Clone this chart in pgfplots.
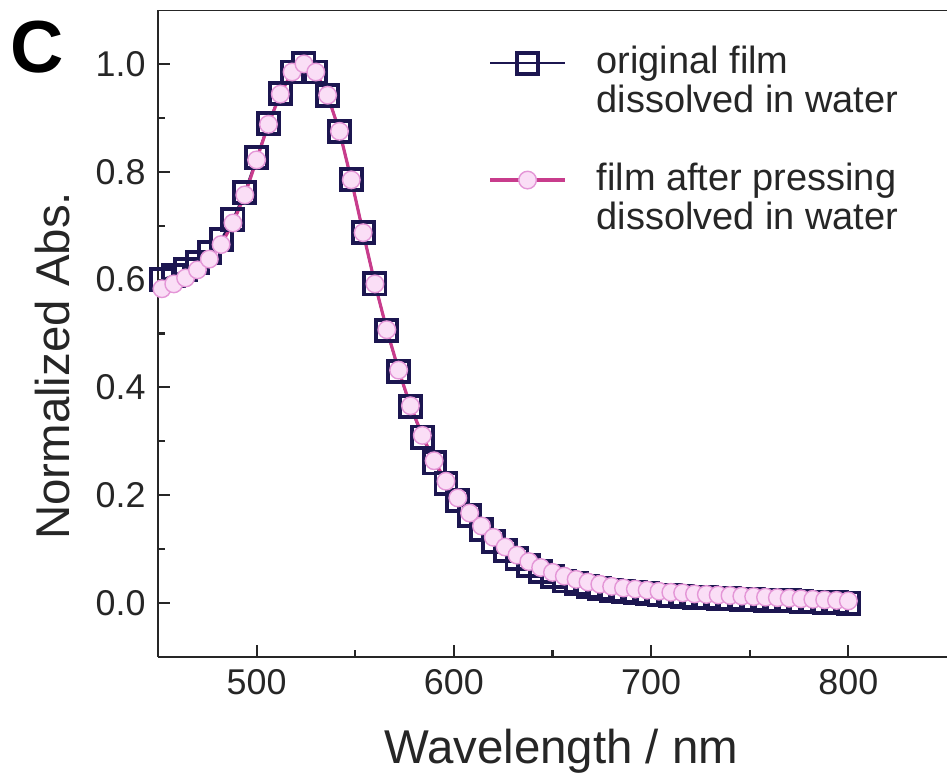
\documentclass[border=0pt]{standalone}
\usepackage{fontspec}
\setmainfont{Liberation Sans}
\usepackage{pgfplots}
\pgfplotsset{compat=1.18}
\usepackage{pgfplotstable}
\definecolor{navy}{RGB}{28,22,80}
\definecolor{pinkline}{RGB}{200,60,140}
\definecolor{pinkfill}{RGB}{250,222,246}
\definecolor{pinkedge}{RGB}{228,150,215}

\pgfplotstableread{
x y
452 0.600
458 0.608
464 0.618
470 0.632
476 0.650
482 0.675
488 0.712
494 0.762
500 0.826
506 0.890
512 0.945
518 0.985
524 1.000
530 0.985
536 0.942
542 0.875
548 0.785
554 0.687
560 0.592
566 0.506
572 0.430
578 0.364
584 0.308
590 0.260
596 0.222
602 0.190
608 0.162
614 0.137
620 0.115
626 0.097
632 0.082
638 0.069
644 0.058
650 0.049
656 0.041
662 0.036
668 0.031
674 0.027
680 0.024
686 0.021
692 0.019
698 0.017
704 0.015
710 0.014
716 0.012
722 0.011
728 0.010
734 0.009
740 0.008
746 0.007
752 0.006
758 0.005
764 0.005
770 0.004
776 0.003
782 0.002
788 0.001
794 0.001
800 0.000
}\original

\pgfplotstableread{
x y
452 0.583
458 0.592
464 0.603
470 0.618
476 0.638
482 0.665
488 0.705
494 0.757
500 0.822
506 0.888
512 0.944
518 0.985
524 1.000
530 0.985
536 0.942
542 0.875
548 0.785
554 0.687
560 0.592
566 0.507
572 0.432
578 0.366
584 0.311
590 0.264
596 0.226
602 0.195
608 0.167
614 0.143
620 0.122
626 0.104
632 0.089
638 0.077
644 0.066
650 0.057
656 0.050
662 0.044
668 0.039
674 0.035
680 0.031
686 0.028
692 0.026
698 0.024
704 0.022
710 0.020
716 0.019
722 0.017
728 0.016
734 0.015
740 0.014
746 0.013
752 0.012
758 0.011
764 0.010
770 0.009
776 0.008
782 0.007
788 0.006
794 0.005
800 0.004
}\pressed

\begin{document}
\begin{tikzpicture}
\begin{axis}[
  at={(0,0)}, anchor=south west,
  scale only axis,
  width=7.89cm, height=6.47cm,
  xmin=450, xmax=850,
  ymin=-0.1, ymax=1.1,
  axis x line*=bottom,
  axis y line*=left,
  axis line style={black!85, line width=0.7pt},
  xtick={500,600,700,800},
  ytick={0,0.2,0.4,0.6,0.8,1.0},
  minor x tick num=1,
  minor y tick num=1,
  tick align=inside,
  major tick length=0.12cm,
  minor tick length=0.07cm,
  every tick/.style={black!85, line width=0.6pt},
  /pgf/number format/assume math mode=true,
  yticklabel style={/pgf/number format/.cd, fixed, fixed zerofill, precision=1},
  xticklabel style={/pgf/number format/.cd, fixed, precision=0, set thousands separator={}},
  tick label style={font=\fontsize{10.2}{12}\selectfont, black!85},
  xlabel={Wavelength / nm},
  ylabel={Normalized Abs.},
  label style={font=\fontsize{13.5}{16}\selectfont, black!85},
  xlabel style={at={(axis description cs:0.511,-0.164)}, anchor=base},
  ylabel style={at={(axis description cs:-0.134,0.45)}, anchor=center},
  legend style={at={(axis description cs:0.418,0.945)}, anchor=north west,
    draw=none, fill=none, inner sep=0pt, row sep=11pt, column sep=0.3cm,
    font=\fontsize{10.8}{11}\selectfont,
    nodes={inner sep=0pt, text depth=, text=black!85}},
  legend cell align=left,
  legend image code/.code={%
    \draw[mark repeat=2,mark phase=2,#1] plot coordinates {(0cm,0.222cm) (0.375cm,0.222cm) (0.75cm,0.222cm)};},
]
\addplot[navy, line width=0.6pt, mark=square, mark size=3pt,
  mark options={solid, draw=navy, fill=white, line width=1.1pt}]
  table[x=x,y=y] {\original};
\addlegendentry{\begin{tabular}[t]{@{}l@{}}original film\\dissolved in water\end{tabular}}
\addplot[pinkline, line width=0.9pt, mark=*, mark size=2.5pt,
  mark options={solid, draw=pinkedge, fill=pinkfill, line width=0.4pt}]
  table[x=x,y=y] {\pressed};
\addlegendentry{\begin{tabular}[t]{@{}l@{}}film after pressing\\dissolved in water\end{tabular}}
\draw[black!85, line width=0.7pt] (rel axis cs:0,1) -- (rel axis cs:1,1);
\end{axis}
\node[font=\fontsize{21}{24}\selectfont\bfseries, anchor=center] at (-1.21,6.10) {C};
\pgfresetboundingbox
\path[use as bounding box] (-1.58,-1.25) rectangle (7.89,6.57);
\end{tikzpicture}
\end{document}
